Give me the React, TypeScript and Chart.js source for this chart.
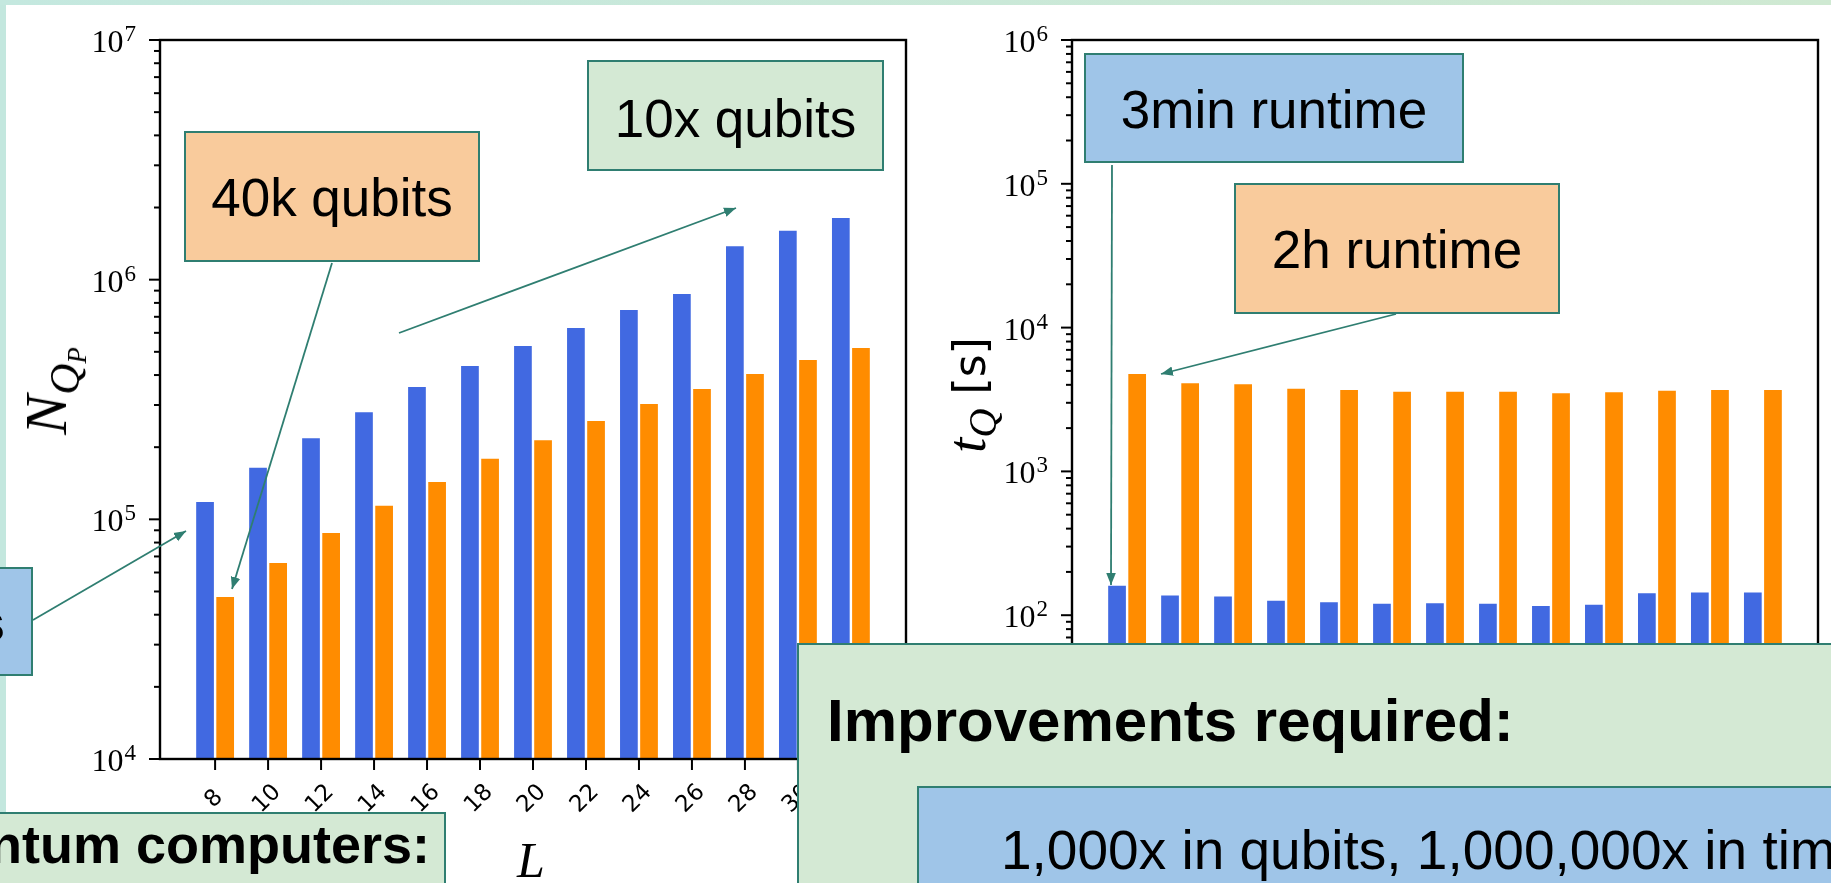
import React, { useEffect, useRef } from "react";
import { Chart, registerables } from "chart.js";

Chart.register(...registerables);

// ---------- data ----------
const L_VALUES = [8, 10, 12, 14, 16, 18, 20, 22, 24, 26, 28, 30, 32];
const L_TICK_LABELS = ["8", "10", "12", "14", "16", "18", "20", "22", "24", "26", "28", "30", "32"];
const QUBITS_BLUE = [1.18e5, 1.64e5, 2.18e5, 2.8e5, 3.57e5, 4.36e5, 5.29e5, 6.29e5, 7.47e5, 8.71e5, 1.38e6, 1.6e6, 1.81e6];
const QUBITS_ORANGE = [4.74e4, 6.57e4, 8.77e4, 1.14e5, 1.43e5, 1.79e5, 2.14e5, 2.57e5, 3.03e5, 3.5e5, 4.04e5, 4.62e5, 5.19e5];
const RUNTIME_BLUE = [160, 137, 135, 126, 123, 120, 121, 120, 116, 118, 142, 144, 144];
const RUNTIME_ORANGE = [4760, 4100, 4030, 3760, 3680, 3580, 3580, 3580, 3490, 3550, 3640, 3680, 3680];
const QUBIT_EXPONENTS = [4, 5, 6, 7];
const RUNTIME_EXPONENTS = [1, 2, 3, 4, 5, 6];

// ---------- style ----------
const W = 1831;
const H = 883;
const BAR_BLUE = "#4169e1";
const BAR_ORANGE = "#ff8c00";
const TEAL = "#2f7e71";
const FILL_BLUE = "#9fc5e8";
const FILL_ORANGE = "#f9cb9c";
const FILL_GREEN = "#d4e9d4";

function makeAxesPlugin(exponents: number[]) {
  return {
    id: "mplAxes",
    afterDraw(chart: any) {
      const { ctx, chartArea: a } = chart;
      const xs = chart.scales.x;
      const ys = chart.scales.y;
      ctx.save();
      ctx.strokeStyle = "#000";
      ctx.fillStyle = "#000";
      ctx.lineWidth = 2;
      // minor y ticks
      for (let i = 0; i < exponents.length - 1; i++) {
        for (let m = 2; m <= 9; m++) {
          const py = ys.getPixelForValue(m * Math.pow(10, exponents[i]));
          ctx.beginPath();
          ctx.moveTo(a.left - 6, py);
          ctx.lineTo(a.left, py);
          ctx.stroke();
        }
      }
      // major y ticks + labels
      exponents.forEach((e) => {
        const py = ys.getPixelForValue(Math.pow(10, e));
        ctx.beginPath();
        ctx.moveTo(a.left - 11, py);
        ctx.lineTo(a.left, py);
        ctx.stroke();
        const rx = a.left - 24;
        const es = String(e);
        ctx.textAlign = "right";
        ctx.textBaseline = "alphabetic";
        ctx.font = '23px "Liberation Serif", "DejaVu Serif", serif';
        ctx.fillText(es, rx, py + 1);
        const ew = ctx.measureText(es).width;
        ctx.font = '32px "Liberation Serif", "DejaVu Serif", serif';
        ctx.fillText("10", rx - ew - 1, py + 12);
      });
      // x ticks + labels
      L_VALUES.forEach((v, i) => {
        const px = xs.getPixelForValue(v);
        ctx.beginPath();
        ctx.moveTo(px, a.bottom);
        ctx.lineTo(px, a.bottom + 11);
        ctx.stroke();
        ctx.save();
        ctx.translate(px - 1, a.bottom + 40);
        ctx.rotate(-Math.PI / 4);
        ctx.font = '23px "DejaVu Sans", sans-serif';
        ctx.textAlign = "center";
        ctx.textBaseline = "middle";
        ctx.fillText(L_TICK_LABELS[i], 0, 0);
        ctx.restore();
      });
      // frame
      ctx.lineWidth = 2.4;
      ctx.strokeRect(a.left, a.top, a.right - a.left, a.bottom - a.top);
      ctx.restore();
    },
  };
}

type ChartProps = {
  blue: number[];
  orange: number[];
  yMin: number;
  yMax: number;
  exponents: number[];
  padding: { left: number; top: number; right: number; bottom: number };
};

function LogBarChart({ blue, orange, yMin, yMax, exponents, padding }: ChartProps) {
  const ref = useRef<HTMLCanvasElement>(null);
  useEffect(() => {
    const chart = new Chart(ref.current as HTMLCanvasElement, {
      type: "bar",
      data: {
        datasets: [
          {
            label: "blue",
            data: L_VALUES.map((x, i) => ({ x, y: blue[i] })),
            backgroundColor: BAR_BLUE,
            barPercentage: 0.88,
            categoryPercentage: 0.76,
          },
          {
            label: "orange",
            data: L_VALUES.map((x, i) => ({ x, y: orange[i] })),
            backgroundColor: BAR_ORANGE,
            barPercentage: 0.88,
            categoryPercentage: 0.76,
          },
        ],
      } as any,
      options: {
        responsive: false,
        animation: false,
        devicePixelRatio: 1,
        layout: { padding },
        plugins: { legend: { display: false }, tooltip: { enabled: false } },
        scales: {
          x: {
            type: "linear",
            display: false,
            min: 5.92,
            max: 34.08,
            offset: false,
            afterBuildTicks: (s: any) => {
              s.ticks = L_VALUES.map((v) => ({ value: v }));
            },
          },
          y: { type: "logarithmic", display: false, min: yMin, max: yMax },
        },
      } as any,
      plugins: [makeAxesPlugin(exponents)],
    });
    return () => chart.destroy();
  }, []);
  return (
    <canvas
      ref={ref}
      width={W}
      height={H}
      style={{ position: "absolute", left: 0, top: 0, width: W, height: H }}
    />
  );
}

function Box({ left, top, width, height, bg }: any) {
  return (
    <div
      style={{
        position: "absolute",
        left,
        top,
        width,
        height,
        background: bg,
        border: `2px solid ${TEAL}`,
        boxSizing: "border-box",
      }}
    />
  );
}

function Text({ children, left, width, baseline, size, bold, align }: any) {
  return (
    <div
      style={{
        position: "absolute",
        left,
        width,
        top: baseline - 0.8465 * size,
        fontFamily: '"Liberation Sans", Arial, sans-serif',
        fontSize: size,
        lineHeight: `${size}px`,
        fontWeight: bold ? 700 : 400,
        textAlign: align || "left",
        whiteSpace: "nowrap",
        color: "#000",
      }}
    >
      {children}
    </div>
  );
}

function Centered({ cx, cy, rotate, children, style }: any) {
  return (
    <div
      style={{
        position: "absolute",
        left: cx,
        top: cy,
        transform: `translate(-50%, -50%)${rotate ? " rotate(-90deg)" : ""}`,
        whiteSpace: "nowrap",
        lineHeight: 1,
        color: "#000",
        ...style,
      }}
    >
      {children}
    </div>
  );
}

export default function App() {
  return (
    <div
      style={{
        position: "absolute",
        left: 0,
        top: 0,
        width: W,
        height: H,
        overflow: "hidden",
        background: "#c3e7de",
      }}
    >
      <div
        style={{
          position: "absolute",
          left: 0,
          top: 0,
          width: W,
          height: 5,
          background: "linear-gradient(90deg, #c4e8df, #cfe9d2)",
        }}
      />
      <div style={{ position: "absolute", left: 6, top: 5, right: 0, bottom: 0, background: "#fff" }} />

      <LogBarChart
        blue={QUBITS_BLUE}
        orange={QUBITS_ORANGE}
        yMin={1e4}
        yMax={1e7}
        exponents={QUBIT_EXPONENTS}
        padding={{ left: 160, top: 40, right: W - 906, bottom: H - 759 }}
      />
      <LogBarChart
        blue={RUNTIME_BLUE}
        orange={RUNTIME_ORANGE}
        yMin={1e1}
        yMax={1e6}
        exponents={RUNTIME_EXPONENTS}
        padding={{ left: 1072, top: 40, right: W - 1818, bottom: H - 759 }}
      />

      {/* axis titles */}
      <Centered
        cx={46}
        cy={391}
        rotate
        style={{ fontFamily: '"Liberation Serif", serif', fontStyle: "italic", fontSize: 60 }}
      >
        N
        <span style={{ fontSize: "0.72em", position: "relative", top: "0.3em" }}>
          Q<span style={{ fontSize: "0.62em", position: "relative", top: "0.25em" }}>P</span>
        </span>
      </Centered>
      <Centered
        cx={531}
        cy={860}
        style={{ fontFamily: '"Liberation Serif", serif', fontStyle: "italic", fontSize: 50 }}
      >
        L
      </Centered>
      <Centered
        cx={967}
        cy={395}
        rotate
        style={{ fontFamily: '"Liberation Serif", serif', fontStyle: "italic", fontSize: 54 }}
      >
        t<span style={{ fontSize: "0.75em", position: "relative", top: "0.28em" }}>Q</span>
        <span style={{ fontFamily: '"DejaVu Sans", sans-serif', fontStyle: "normal", fontSize: 44 }}>
          {" "}[s]
        </span>
      </Centered>

      {/* arrows */}
      <svg width={W} height={H} style={{ position: "absolute", left: 0, top: 0 }}>
        <defs>
          <marker
            id="arrowHead"
            viewBox="0 0 10 10"
            refX="10"
            refY="5"
            markerWidth="12"
            markerHeight="12"
            markerUnits="userSpaceOnUse"
            orient="auto"
          >
            <path d="M0,1 L10,5 L0,9 z" fill={TEAL} />
          </marker>
        </defs>
        <g stroke={TEAL} strokeWidth={1.8} fill="none">
          <line x1={33} y1={620} x2={186} y2={531} markerEnd="url(#arrowHead)" />
          <line x1={332} y1={263} x2={232} y2={589} markerEnd="url(#arrowHead)" />
          <line x1={399} y1={333} x2={736} y2={208} markerEnd="url(#arrowHead)" />
          <line x1={1112} y1={165} x2={1111} y2={585} markerEnd="url(#arrowHead)" />
          <line x1={1396} y1={314} x2={1161} y2={374} markerEnd="url(#arrowHead)" />
        </g>
      </svg>

      {/* annotation boxes */}
      <Box left={-200} top={567} width={233} height={109} bg={FILL_BLUE} />
      <Text left={-295} width={300} baseline={641} size={54} bold align="right">
        s
      </Text>

      <Box left={184} top={131} width={296} height={131} bg={FILL_ORANGE} />
      <Text left={184} width={296} baseline={216} size={53} align="center">
        40k qubits
      </Text>

      <Box left={587} top={60} width={297} height={111} bg={FILL_GREEN} />
      <Text left={587} width={297} baseline={137} size={53} align="center">
        10x qubits
      </Text>

      <Box left={1084} top={53} width={380} height={110} bg={FILL_BLUE} />
      <Text left={1084} width={380} baseline={128} size={53} align="center">
        3min runtime
      </Text>

      <Box left={1234} top={183} width={326} height={131} bg={FILL_ORANGE} />
      <Text left={1234} width={326} baseline={268} size={53} align="center">
        2h runtime
      </Text>

      <Box left={797} top={643} width={1100} height={300} bg={FILL_GREEN} />
      <Text left={827} baseline={742} size={60} bold>
        Improvements required:
      </Text>
      <Box left={917} top={786} width={1000} height={200} bg={FILL_BLUE} />
      <Text left={1001} baseline={870} size={55}>
        1,000x in qubits, 1,000,000x in time
      </Text>

      <Box left={-10} top={812} width={456} height={120} bg={FILL_GREEN} />
      <Text left={-570} width={1000} baseline={863} size={54} bold align="right">
        ntum computers:
      </Text>
    </div>
  );
}
